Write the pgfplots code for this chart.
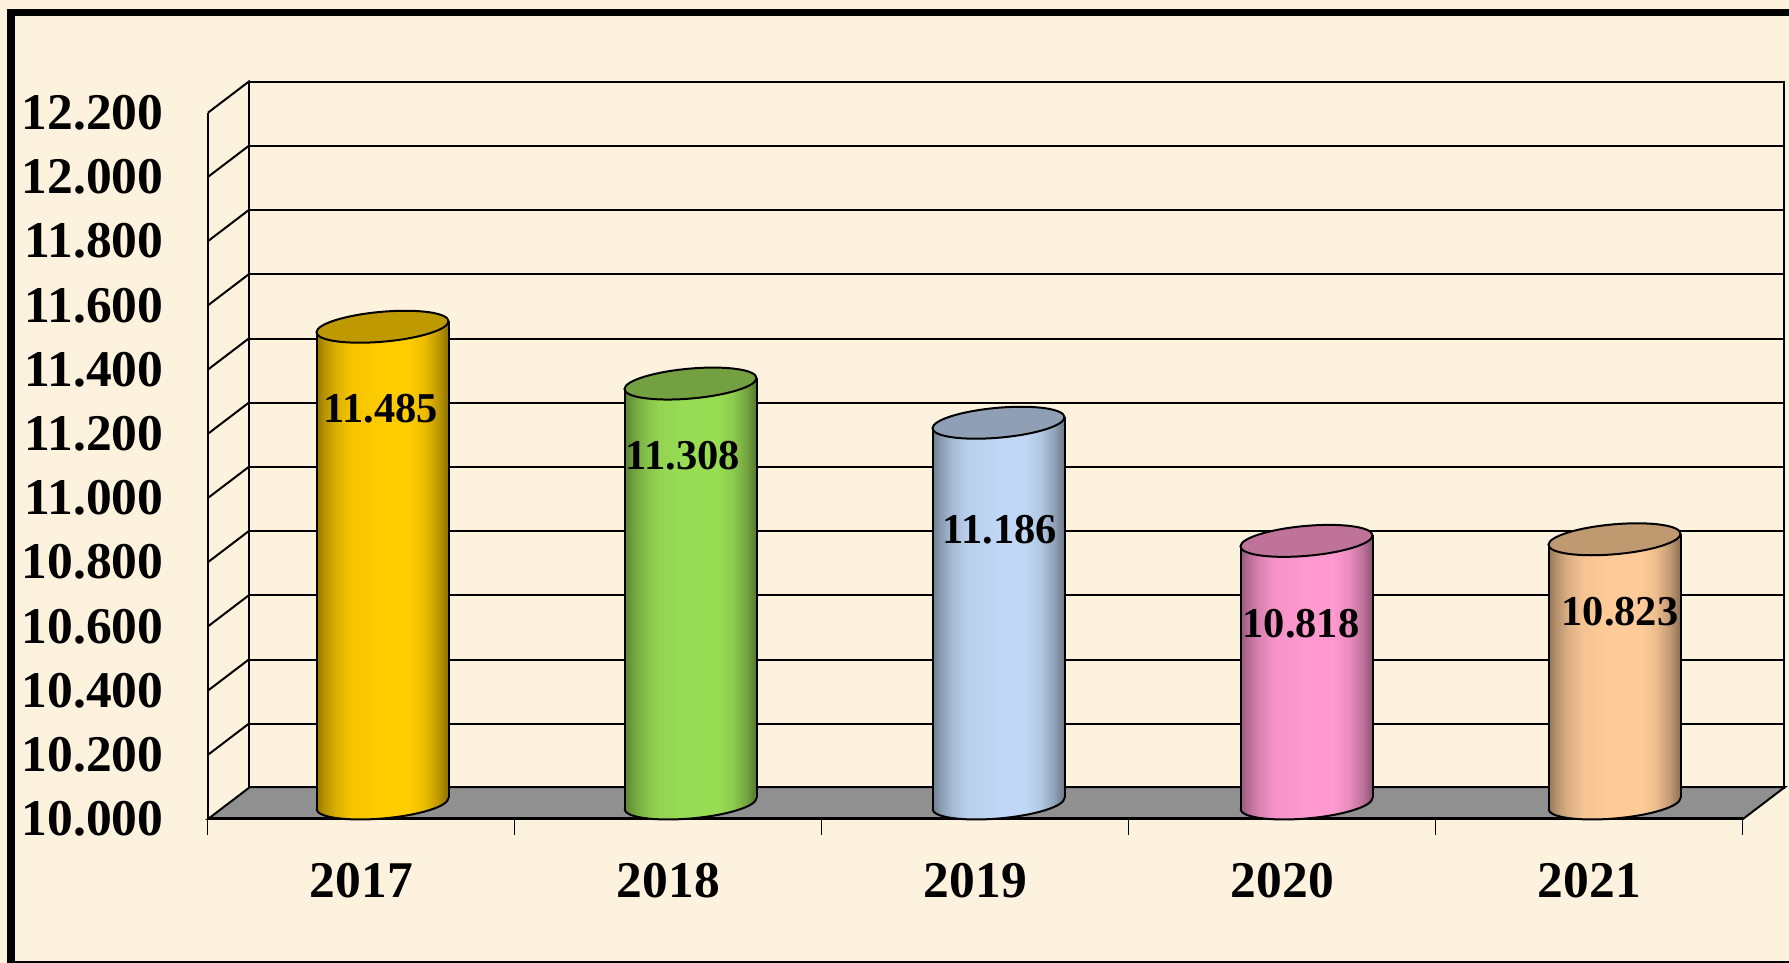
\documentclass[border=0pt]{standalone}
\usepackage{pgfplots}
\usepackage{pgfplotstable}
\usepackage{fontspec}
\setmainfont{Liberation Serif}
\pgfplotsset{compat=1.18}

\definecolor{bgc}{HTML}{FCF2DE}
\definecolor{floorc}{HTML}{909090}

% outline of one cylinder, as offsets from its category and from its value (t=1) or base (t=0)
\pgfplotstableread{
dx dv t
-0.2143 -17.1 1
0.2143 17.1 1
0.2143 17.1 0
0.2070 4.43 0
0.1856 -8.54 0
0.1515 -20.93 0
0.1072 -31.89 0
0.0555 -40.68 0
0 -46.7 0
-0.0555 -49.54 0
-0.1072 -48.99 0
-0.1515 -45.11 0
-0.1856 -38.16 0
-0.2070 -28.61 0
-0.2143 -17.1 0
}\cyloutline

% body colour, top colour
\newcommand{\defcyl}[3]{%
  \definecolor{body#1}{HTML}{#2}%
  \definecolor{top#1}{HTML}{#3}%
  \pgfdeclarehorizontalshading{sh#1}{100bp}{%
    color(0bp)=(body#1!58!black);
    color(25bp)=(body#1!58!black);
    color(28bp)=(body#1!72!black);
    color(32bp)=(body#1!85!black);
    color(38bp)=(body#1!96!black);
    color(50bp)=(body#1);
    color(60bp)=(body#1);
    color(66bp)=(body#1!92!black);
    color(71bp)=(body#1!75!black);
    color(75bp)=(body#1!55!black);
    color(100bp)=(body#1!55!black)}%
  \pgfdeclareplotmark{cyltop#1}{%
    \path[fill=top#1, draw=black, line width=2pt] (66pt,5.5pt)
      .. controls (66pt,13.78pt) and (36.45pt,18.04pt) .. (0pt,15pt)
      .. controls (-36.45pt,11.96pt) and (-66pt,2.78pt) .. (-66pt,-5.5pt)
      .. controls (-66pt,-13.78pt) and (-36.45pt,-18.04pt) .. (0pt,-15pt)
      .. controls (36.45pt,-11.96pt) and (66pt,-2.78pt) .. (66pt,5.5pt) -- cycle;
  }%
}
\pgfdeclareplotmark{cylbot}{%
  \path[draw=black, line width=2pt] (-66pt,-5.5pt)
    .. controls (-66pt,-13.78pt) and (-36.45pt,-18.04pt) .. (0pt,-15pt)
    .. controls (36.45pt,-11.96pt) and (66pt,-2.78pt) .. (66pt,5.5pt);
}
\defcyl{A}{FFCC00}{BF9900}
\defcyl{B}{99DD55}{73A040}
\defcyl{C}{C0D8F5}{8F9FB5}
\defcyl{D}{FF99D0}{C07399}
\defcyl{E}{FFCC99}{BF9970}

% one cylinder: letter, x, value
\newcommand{\cyl}[3]{%
  \pgfmathsetmacro\xl{#2-0.2143}%
  \pgfmathsetmacro\xr{#2+0.2143}%
  \pgfmathsetmacro\yl{#3-17.1}%
  \pgfmathsetmacro\yr{#3+17.1}%
  \addplot[draw=none, shading=sh#1, forget plot] table[x expr={#2+\thisrow{dx}}, y expr={\thisrow{dv}+\thisrow{t}*#3+(1-\thisrow{t})*10000}] {\cyloutline} -- cycle;
  \addplot[only marks, mark=cylbot, forget plot] coordinates {(#2,10000)};
  \addplot[only marks, mark=cyltop#1, forget plot] coordinates {(#2,#3)};
  \addplot[black, line width=2pt, forget plot] coordinates {(\xl,9982.9)(\xl,\yl)};
  \addplot[black, line width=2pt, forget plot] coordinates {(\xr,10017.1)(\xr,\yr)};
}

\pgfplotsset{
  plane/.style={
    scale only axis, width=1535pt, height=706.3pt,
    anchor=south west, clip=false,
    xmin=0, xmax=5, ymin=10000, ymax=12200,
    scaled y ticks=false,
  }
}

\begin{document}
\begin{tikzpicture}[x=1pt,y=1pt]
\fill[bgc] (0,0) rectangle (1789,963);
\path[use as bounding box] (0,0) rectangle (1789,963);
\fill[black] (7,0) rectangle (15,954);
\fill[black] (7,947) rectangle (1789,954);
\fill[black] (7,0) rectangle (1789,2);

% back wall
\begin{axis}[plane, at={(249pt,175pt)},
  xtick=\empty,
  ytick={10000,10200,10400,10600,10800,11000,11200,11400,11600,11800,12000,12200},
  yticklabels={},
  major tick length=0pt,
  ymajorgrids, grid style={black, line width=2pt},
  axis line style={black, line width=2pt},
]
\end{axis}

% front plane: floor, side wall, tick labels
\begin{axis}[plane, at={(208pt,144pt)},
  axis x line*=bottom, axis y line*=left,
  axis line style={black, line width=2pt, -},
  unbounded coords=jump,
  xtick={0.5,1.5,2.5,3.5,4.5},
  xticklabels={2017,2018,2019,2020,2021},
  minor xtick={0,1,2,3,4,5},
  ytick={10000,10200,10400,10600,10800,11000,11200,11400,11600,11800,12000,12200},
  yticklabels={10.000,10.200,10.400,10.600,10.800,11.000,11.200,11.400,11.600,11.800,12.000,12.200},
  tick align=outside,
  major tick length=0pt,
  minor tick length=16pt,
  minor x tick style={black, line width=1pt},
  tick label style={font=\fontsize{51.5}{51.5}\selectfont\bfseries, inner sep=0pt},
  xticklabel style={anchor=north, yshift=-44pt},
  yticklabel style={anchor=east, xshift=-44.5pt},
]
\addplot[black, line width=2pt, fill=floorc] coordinates {(0,10000)(5,10000)(5.1368,10099.6)(0.1368,10099.6)} -- cycle;
\addplot[black, line width=3pt] coordinates {(0,10000)(5,10000)};
\addplot[black, line width=2pt] coordinates {
 (0,10200)(0.1368,10299.6)(0,nan)
 (0,10400)(0.1368,10499.6)(0,nan)
 (0,10600)(0.1368,10699.6)(0,nan)
 (0,10800)(0.1368,10899.6)(0,nan)
 (0,11000)(0.1368,11099.6)(0,nan)
 (0,11200)(0.1368,11299.6)(0,nan)
 (0,11400)(0.1368,11499.6)(0,nan)
 (0,11600)(0.1368,11699.6)(0,nan)
 (0,11800)(0.1368,11899.6)(0,nan)
 (0,12000)(0.1368,12099.6)(0,nan)
 (0,12200)(0.1368,12299.6)};
\end{axis}

% cylinders, at mid depth
\begin{axis}[plane, width=1540pt, at={(228.5pt,159.5pt)}, hide axis]
\cyl{A}{0.5}{11485}
\cyl{B}{1.5}{11308}
\cyl{C}{2.5}{11186}
\cyl{D}{3.5}{10818}
\cyl{E}{4.5}{10823}
\begin{scope}[every node/.style={font=\fontsize{42.5}{42.5}\selectfont\bfseries, inner sep=0pt, black}]
\node at (axis cs:0.4940,11231) {11.485};
\node at (axis cs:1.4740,11083) {11.308};
\node at (axis cs:2.5040,10852) {11.186};
\node at (axis cs:3.4820,10561) {10.818};
\node at (axis cs:4.5180,10599) {10.823};
\end{scope}
\end{axis}
\end{tikzpicture}
\end{document}
